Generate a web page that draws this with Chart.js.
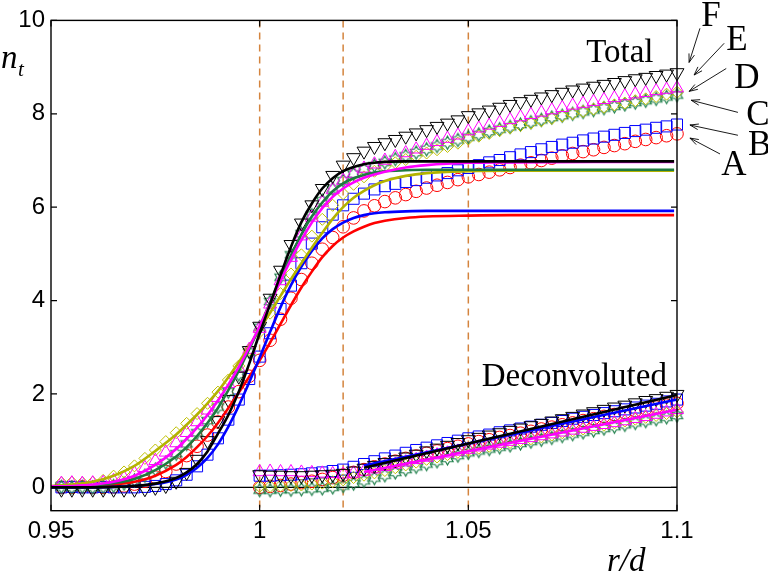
<!DOCTYPE html>
<html><head><meta charset="utf-8">
<script src="https://cdn.jsdelivr.net/npm/chart.js@4.4.0/dist/chart.umd.min.js"></script>
<style>html,body{margin:0;padding:0;background:#fff;}canvas{display:block;}</style>
</head><body>
<canvas id="c" width="768" height="575"></canvas>
<script>
// ---------- data ----------
const xTicks = [0.95, 1, 1.05, 1.1];
const yTicks = [0, 2, 4, 6, 8, 10];
const refLines = [1.0, 1.02, 1.05];

const rTotal = [0.9525,0.955,0.9575,0.96,0.9625,0.965,0.9675,0.97,0.9725,0.975,0.9775,0.98,0.9825,0.985,0.9875,0.99,0.9925,0.995,0.9975,
 1.0,1.0025,1.005,1.0075,1.01,1.0125,1.015,1.0175,1.02,1.0225,1.025,1.0275,1.03,1.0325,1.035,1.0375,1.04,1.0425,1.045,1.0475,
 1.05,1.0525,1.055,1.0575,1.06,1.0625,1.065,1.0675,1.07,1.0725,1.075,1.0775,1.08,1.0825,1.085,1.0875,1.09,1.0925,1.095,1.0975,1.1];
const rDeconv = rTotal.slice(19);

// Total (measured) n_t
const totA = [0.0,0.0,0.01,0.0,0.0,0.01,0.03,0.07,0.13,0.22,0.34,0.5,0.68,0.88,1.12,1.4,1.72,2.05,2.38,
 2.72,3.15,3.6,4.05,4.45,4.8,5.1,5.35,5.58,5.77,5.92,6.03,6.12,6.2,6.27,6.34,6.41,6.47,6.53,6.59,
 6.65,6.7,6.75,6.8,6.85,6.9,6.95,7.0,7.05,7.1,7.15,7.19,7.23,7.28,7.32,7.36,7.41,7.45,7.49,7.53,7.57];
const totB = [0.0,0.01,0.0,0.0,0.01,0.0,0.0,0.0,0.01,0.03,0.07,0.15,0.27,0.45,0.7,1.05,1.45,1.88,2.32,
 2.8,3.3,3.82,4.32,4.8,5.22,5.57,5.84,6.04,6.18,6.29,6.38,6.45,6.5,6.54,6.58,6.63,6.68,6.73,6.79,
 6.84,6.9,6.96,7.01,7.07,7.13,7.18,7.24,7.29,7.34,7.38,7.43,7.47,7.51,7.55,7.59,7.63,7.66,7.7,7.73,7.77];
const totC = [0.01,0.0,0.01,0.0,0.01,0.03,0.08,0.15,0.25,0.38,0.53,0.72,0.93,1.17,1.43,1.72,2.05,2.42,2.9,
 3.43,3.98,4.5,4.98,5.43,5.83,6.14,6.39,6.57,6.71,6.81,6.89,6.96,7.03,7.1,7.17,7.24,7.31,7.38,7.44,
 7.5,7.56,7.62,7.67,7.72,7.77,7.82,7.87,7.92,7.96,8.0,8.04,8.08,8.12,8.16,8.2,8.24,8.28,8.32,8.36,8.4];
const totD = [0.1,0.11,0.1,0.11,0.15,0.24,0.33,0.46,0.62,0.8,0.98,1.17,1.37,1.58,1.8,2.04,2.3,2.6,2.95,
 3.33,3.73,4.15,4.57,4.98,5.38,5.74,6.04,6.29,6.49,6.65,6.77,6.87,6.95,7.02,7.09,7.16,7.23,7.3,7.37,
 7.46,7.52,7.58,7.64,7.7,7.75,7.8,7.85,7.9,7.95,8.0,8.05,8.1,8.14,8.19,8.23,8.28,8.32,8.37,8.42,8.46];
const totE = [0.08,0.09,0.08,0.09,0.1,0.14,0.2,0.3,0.42,0.57,0.75,0.95,1.17,1.4,1.65,1.92,2.22,2.55,2.95,
 3.4,3.92,4.42,4.92,5.38,5.78,6.1,6.37,6.57,6.72,6.83,6.92,7.0,7.08,7.16,7.24,7.32,7.4,7.47,7.54,
 7.63,7.69,7.75,7.81,7.87,7.93,7.98,8.03,8.08,8.13,8.18,8.22,8.26,8.3,8.34,8.38,8.42,8.45,8.49,8.52,8.55];
const totF = [-0.04,-0.04,-0.04,-0.04,-0.04,-0.04,-0.04,-0.04,-0.03,0.0,0.04,0.13,0.32,0.6,1.0,1.43,1.88,2.38,2.93,
 3.45,4.05,4.65,5.2,5.66,6.05,6.4,6.68,6.9,7.06,7.2,7.3,7.38,7.45,7.52,7.59,7.66,7.73,7.8,7.87,
 7.96,8.02,8.08,8.14,8.2,8.26,8.31,8.36,8.41,8.46,8.51,8.55,8.59,8.63,8.67,8.71,8.75,8.78,8.82,8.85,8.88];

// Deconvoluted
const decA = [0.0,0.02,0.04,0.07,0.1,0.13,0.17,0.21,0.26,0.32,0.38,0.44,0.5,0.56,0.62,0.67,0.73,0.78,0.83,0.88,
 0.93,0.98,1.02,1.07,1.11,1.16,1.2,1.25,1.29,1.34,1.38,1.43,1.47,1.52,1.56,1.6,1.64,1.68,1.72,1.76,1.8];
const decB = [0.25,0.25,0.26,0.27,0.28,0.3,0.32,0.35,0.38,0.44,0.5,0.56,0.62,0.68,0.74,0.8,0.85,0.9,0.95,1.0,
 1.05,1.09,1.13,1.18,1.22,1.26,1.3,1.34,1.38,1.42,1.47,1.51,1.55,1.59,1.63,1.67,1.71,1.75,1.79,1.84,1.88];
const decC = [-0.06,-0.06,-0.05,-0.05,-0.04,-0.03,-0.02,0.0,0.03,0.08,0.14,0.2,0.26,0.32,0.38,0.44,0.5,0.56,0.62,0.68,
 0.74,0.78,0.82,0.86,0.9,0.94,0.98,1.02,1.06,1.1,1.14,1.18,1.22,1.26,1.3,1.34,1.38,1.42,1.46,1.5,1.54];
const decD = [0.02,0.02,0.03,0.04,0.05,0.07,0.09,0.12,0.16,0.21,0.26,0.31,0.36,0.42,0.48,0.54,0.6,0.65,0.7,0.75,
 0.8,0.84,0.88,0.92,0.96,1.0,1.04,1.08,1.12,1.17,1.21,1.25,1.29,1.33,1.38,1.42,1.46,1.5,1.54,1.58,1.62];
const decE = [0.33,0.34,0.33,0.33,0.32,0.31,0.3,0.29,0.28,0.3,0.34,0.39,0.44,0.49,0.54,0.59,0.64,0.69,0.73,0.77,
 0.81,0.86,0.9,0.94,0.98,1.02,1.06,1.1,1.14,1.18,1.22,1.26,1.3,1.34,1.38,1.42,1.47,1.51,1.56,1.61,1.66];
const decF = [0.27,0.26,0.26,0.25,0.25,0.26,0.27,0.28,0.3,0.35,0.41,0.47,0.53,0.59,0.65,0.71,0.78,0.84,0.9,0.96,
 1.02,1.07,1.12,1.17,1.22,1.27,1.32,1.37,1.42,1.47,1.52,1.57,1.62,1.67,1.72,1.76,1.81,1.86,1.9,1.95,1.99];

// Fitted curves (total)
const rFit = [0.95,0.955,0.96,0.965,0.97,0.975,0.98,0.9825,0.985,0.9875,0.99,0.9925,0.995,0.9975,1.0,1.0025,1.005,1.0075,
 1.01,1.0125,1.015,1.0175,1.02,1.0225,1.025,1.0275,1.03,1.035,1.04,1.05,1.06,1.08,1.0993];
const fitA = [0.01,0.02,0.03,0.06,0.12,0.25,0.48,0.65,0.86,1.1,1.38,1.7,2.03,2.37,2.72,3.1,3.5,3.9,
 4.28,4.62,4.93,5.17,5.35,5.48,5.58,5.66,5.71,5.77,5.8,5.82,5.83,5.83,5.83];
const fitB = [0.0,0.0,0.0,0.01,0.03,0.07,0.17,0.27,0.42,0.63,0.92,1.3,1.75,2.25,2.78,3.33,3.86,4.33,
 4.73,5.06,5.33,5.53,5.67,5.77,5.83,5.87,5.89,5.91,5.92,5.92,5.92,5.92,5.92];
const fitC = [0.01,0.02,0.04,0.09,0.18,0.37,0.66,0.86,1.1,1.38,1.7,2.08,2.5,2.96,3.44,3.96,4.48,4.97,
 5.42,5.8,6.1,6.34,6.51,6.62,6.69,6.74,6.77,6.79,6.8,6.8,6.8,6.8,6.8];
const fitD = [0.03,0.06,0.12,0.25,0.46,0.78,1.13,1.34,1.56,1.8,2.06,2.36,2.68,3.03,3.38,3.74,4.1,4.46,
 4.8,5.13,5.45,5.75,6.0,6.2,6.35,6.47,6.56,6.67,6.73,6.77,6.78,6.78,6.78];
const fitE = [0.02,0.03,0.06,0.12,0.25,0.48,0.82,1.04,1.28,1.55,1.86,2.2,2.58,3.0,3.45,3.93,4.42,4.88,
 5.3,5.67,5.98,6.22,6.4,6.53,6.63,6.7,6.76,6.85,6.9,6.95,6.96,6.97,6.97];
const fitF = [0.0,0.0,0.0,0.01,0.03,0.08,0.2,0.32,0.5,0.77,1.15,1.55,2.05,2.65,3.3,3.92,4.55,5.15,
 5.68,6.08,6.4,6.62,6.77,6.86,6.92,6.95,6.97,6.98,6.98,6.98,6.98,6.98,6.98];

// Fitted lines (deconvoluted)
const rDecFit = [1.025, 1.1];
const decFitB = [0.47, 1.88];
const decFitE = [0.33, 1.66];
const decFitF = [0.42, 1.98];

const seriesNames = ['A','B','C','D','E','F'];
const labelAt  = [[1.1106,6.69],[1.1170,7.12],[1.1166,7.76],[1.1137,8.55],[1.1118,9.36],[1.1058,9.89]];
const arrowFrom= [[1.1103,7.14],[1.1146,7.54],[1.1146,8.03],[1.1118,8.97],[1.1113,9.51],[1.1055,9.83]];
const arrowTo  = [[1.1031,7.48],[1.1031,7.76],[1.1034,8.29],[1.1029,8.48],[1.1041,8.83],[1.1029,9.10]];

// ---------- styles ----------
const COL = {A:'#ff0000', B:'#0000ff', C:'#1f7f4a', D:'#bfbf00', E:'#ff00ff', F:'#000000'};
const LINECOL = {A:'#ff0000', B:'#0000ff', C:'#1f7a40', D:'#b3b300', E:'#ff00ff', F:'#000000'};
const dashColor = '#d4843e';

function hexagram(color, r){
  const s = Math.ceil(2*r + 4);
  const c = document.createElement('canvas'); c.width = s; c.height = s;
  const g = c.getContext('2d'); g.strokeStyle = color; g.lineWidth = 1.2;
  const cx = s/2, cy = s/2, ri = r*0.577;
  g.beginPath();
  for (let k = 0; k < 12; k++){
    const ang = -Math.PI/2 + k*Math.PI/6;
    const rr = (k % 2 === 0) ? r : ri;
    const px = cx + rr*Math.cos(ang), py = cy + rr*Math.sin(ang);
    k ? g.lineTo(px,py) : g.moveTo(px,py);
  }
  g.closePath(); g.stroke();
  return c;
}
const hexImg = hexagram(COL.C, 6.5);

const pts = (xs, ys) => xs.map((x,i) => ({x, y: ys[i]}));

const markerStyle = {
  A:{pointStyle:'circle', pointRadius:6.3, rotation:0},
  B:{pointStyle:'rect', pointRadius:7.8, rotation:0},
  C:{pointStyle:hexImg, pointRadius:6.5, rotation:0},
  D:{pointStyle:'rectRot', pointRadius:6, rotation:0},
  E:{pointStyle:'triangle', pointRadius:7.5, rotation:0},
  F:{pointStyle:'triangle', pointRadius:8, rotation:180}
};
const markerOrder = {A:15,B:14,C:13,D:12,E:11,F:10};
const lineOrder = {A:5,B:4,C:2,D:3,E:1,F:0};

function markers(key, xs, ys){
  const m = markerStyle[key];
  return {data: pts(xs, ys), showLine:false, pointStyle:m.pointStyle, pointRadius:m.pointRadius,
    rotation:m.rotation, borderColor:COL[key], backgroundColor:'rgba(0,0,0,0)', borderWidth:1,
    order:markerOrder[key], clip:false};
}
function fitLine(key, xs, ys){
  return {data: pts(xs, ys), showLine:true, pointRadius:0, borderColor:LINECOL[key], borderWidth:2.6,
    backgroundColor:'rgba(0,0,0,0)', cubicInterpolationMode:'monotone', order:lineOrder[key], clip:false};
}

const datasets = [
  markers('A', rTotal, totA), markers('B', rTotal, totB), markers('C', rTotal, totC),
  markers('D', rTotal, totD), markers('E', rTotal, totE), markers('F', rTotal, totF),
  markers('A', rDeconv, decA), markers('B', rDeconv, decB), markers('C', rDeconv, decC),
  markers('D', rDeconv, decD), markers('E', rDeconv, decE), markers('F', rDeconv, decF),
  fitLine('A', rFit, fitA), fitLine('B', rFit, fitB), fitLine('C', rFit, fitC),
  fitLine('D', rFit, fitD), fitLine('E', rFit, fitE), fitLine('F', rFit, fitF),
  fitLine('B', rDecFit, decFitB), fitLine('E', rDecFit, decFitE), fitLine('F', rDecFit, decFitF)
];

function drawArrow(ctx, x0, y0, x1, y1){
  ctx.beginPath(); ctx.moveTo(x0,y0); ctx.lineTo(x1,y1); ctx.stroke();
  const ang = Math.atan2(y1-y0, x1-x0), L = 9, w = 0.32;
  ctx.beginPath();
  ctx.moveTo(x1 - L*Math.cos(ang-w), y1 - L*Math.sin(ang-w));
  ctx.lineTo(x1, y1);
  ctx.lineTo(x1 - L*Math.cos(ang+w), y1 - L*Math.sin(ang+w));
  ctx.stroke();
}

const deco = {
  id:'deco',
  beforeDatasetsDraw(chart){
    const {ctx, chartArea:a, scales:{x, y}} = chart;
    ctx.save();
    ctx.strokeStyle = dashColor; ctx.lineWidth = 1.5; ctx.setLineDash([7,5]);
    refLines.forEach(v => { const px = x.getPixelForValue(v);
      ctx.beginPath(); ctx.moveTo(px, a.top); ctx.lineTo(px, a.bottom); ctx.stroke(); });
    ctx.setLineDash([]);
    ctx.strokeStyle = '#000'; ctx.lineWidth = 1.2;
    const z = y.getPixelForValue(0);
    ctx.beginPath(); ctx.moveTo(a.left, z); ctx.lineTo(a.right, z); ctx.stroke();
    ctx.restore();
  },
  afterDraw(chart){
    const {ctx, chartArea:a, scales:{x, y}} = chart;
    ctx.save();
    ctx.strokeStyle = '#000'; ctx.lineWidth = 1.4;
    ctx.strokeRect(a.left, a.top, a.right - a.left, a.bottom - a.top);
    ctx.lineWidth = 1.2;
    yTicks.forEach(v => { const py = y.getPixelForValue(v);
      ctx.beginPath(); ctx.moveTo(a.left, py); ctx.lineTo(a.left + 6, py);
      ctx.moveTo(a.right, py); ctx.lineTo(a.right - 6, py); ctx.stroke(); });
    xTicks.forEach(v => { const px = x.getPixelForValue(v);
      ctx.beginPath(); ctx.moveTo(px, a.bottom); ctx.lineTo(px, a.bottom - 6);
      ctx.moveTo(px, a.top); ctx.lineTo(px, a.top + 6); ctx.stroke(); });
    // texts
    ctx.fillStyle = '#000'; ctx.textBaseline = 'alphabetic';
    ctx.font = '33px "Liberation Serif"'; ctx.textAlign = 'center';
    ctx.fillText('Total', x.getPixelForValue(1.0863), y.getPixelForValue(9.11));
    ctx.fillText('Deconvoluted', x.getPixelForValue(1.0754), y.getPixelForValue(2.165));
    ctx.textAlign = 'left'; ctx.font = '35px "Liberation Serif"';
    seriesNames.forEach((s, i) => ctx.fillText(s, x.getPixelForValue(labelAt[i][0]), y.getPixelForValue(labelAt[i][1])));
    ctx.lineWidth = 0.9;
    seriesNames.forEach((s, i) => drawArrow(ctx,
      x.getPixelForValue(arrowFrom[i][0]), y.getPixelForValue(arrowFrom[i][1]),
      x.getPixelForValue(arrowTo[i][0]), y.getPixelForValue(arrowTo[i][1])));
    // axis titles
    ctx.font = 'italic 33px "Liberation Serif"';
    ctx.fillText('n', 1, 68);
    ctx.font = 'italic 21px "Liberation Serif"';
    ctx.fillText('t', 18, 76);
    ctx.font = 'italic 33px "Liberation Serif"';
    ctx.fillText('r/d', 607, 571);
    ctx.restore();
  }
};

new Chart(document.getElementById('c'), {
  type:'scatter',
  data:{datasets},
  options:{
    responsive:false, animation:false, devicePixelRatio:1,
    layout:{padding:{top:19, right:91, left:0, bottom:0}},
    plugins:{legend:{display:false}, tooltip:{enabled:false}},
    scales:{
      x:{type:'linear', min:0.95, max:1.1,
        afterFit(s){ s.height = 64.3; },
        afterBuildTicks(s){ s.ticks = xTicks.map(v => ({value:v})); },
        grid:{display:false, drawTicks:false}, border:{display:false},
        ticks:{padding:6, color:'#000', font:{family:'Liberation Sans', size:24},
          callback:(v) => String(v), maxRotation:0, autoSkip:false}},
      y:{type:'linear', min:-0.5, max:10,
        afterFit(s){ s.width = 51; },
        afterBuildTicks(s){ s.ticks = yTicks.map(v => ({value:v})); },
        grid:{display:false, drawTicks:false}, border:{display:false},
        ticks:{padding:6, color:'#000', font:{family:'Liberation Sans', size:24},
          callback:(v) => String(v), autoSkip:false}}
    }
  },
  plugins:[deco]
});
</script>
</body></html>
